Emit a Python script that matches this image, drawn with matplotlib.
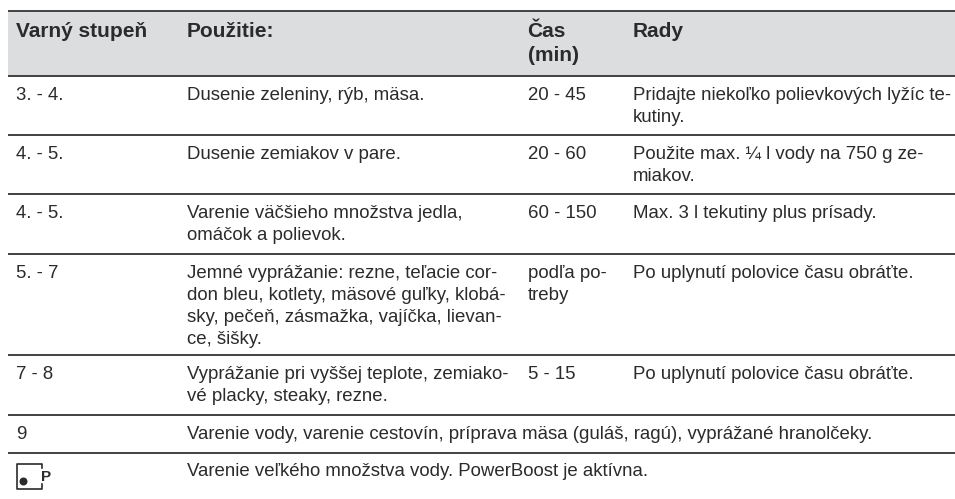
import matplotlib
matplotlib.use("Agg")
import matplotlib.pyplot as plt
from matplotlib.patches import Rectangle, Circle

plt.rcParams['font.family'] = ['Liberation Sans', 'DejaVu Sans']

headers = ["Varný stupeň", "Použitie:", "Čas\n(min)", "Rady"]
col_levels = ["3. - 4.", "4. - 5.", "4. - 5.", "5. - 7", "7 - 8", "9", ""]
col_use = [
    "Dusenie zeleniny, rýb, mäsa.",
    "Dusenie zemiakov v pare.",
    "Varenie väčšieho množstva jedla,\nomáčok a polievok.",
    "Jemné vyprážanie: rezne, teľacie cor-\ndon bleu, kotlety, mäsové guľky, klobá-\nsky, pečeň, zásmažka, vajíčka, lievan-\nce, šišky.",
    "Vyprážanie pri vyššej teplote, zemiako-\nvé placky, steaky, rezne.",
    "Varenie vody, varenie cestovín, príprava mäsa (guláš, ragú), vyprážané hranolčeky.",
    "Varenie veľkého množstva vody. PowerBoost je aktívna.",
]
col_time = ["20 - 45", "20 - 60", "60 - 150", "podľa po-\ntreby", "5 - 15", "", ""]
col_tips = [
    "Pridajte niekoľko polievkových lyžíc te-\nkutiny.",
    "Použite max. ¼ l vody na 750 g ze-\nmiakov.",
    "Max. 3 l tekutiny plus prísady.",
    "Po uplynutí polovice času obráťte.",
    "Po uplynutí polovice času obráťte.",
    "",
    "",
]

rule_y = [10.5, 75.5, 134.5, 193.5, 254, 355, 415, 453]
row_baseline = [100, 159, 218, 278, 379, 439, 476]
col_x = [16, 187, 527.5, 633]
W, H = 955, 499
INK = "#2b2b2b"
RULE = "#3a3a3c"
HEAD = "#dcddde"
FS = 13.4
HFS = 15
LEAD = 21.9

fig = plt.figure(figsize=(W / 100, H / 100), dpi=100)
ax = fig.add_axes([0, 0, 1, 1])
ax.set_xlim(0, W)
ax.set_ylim(H, 0)
ax.axis("off")

ax.add_patch(Rectangle((8, rule_y[0]), W - 8, rule_y[1] - rule_y[0],
                       facecolor=HEAD, edgecolor="none", zorder=0))
for i, y in enumerate(rule_y):
    ax.plot([8, W], [y, y], color=RULE, lw=1.35, solid_capstyle="butt", zorder=2)


def put(x, y0, s, **kw):
    for k, part in enumerate(s.split("\n")):
        ax.text(x, y0 + k * LEAD, part, fontsize=FS, color=INK,
                ha="left", va="baseline", **kw)


for x, s in zip(col_x, headers):
    for k, part in enumerate(s.split("\n")):
        ax.text(x, 36.5 + k * 24, part, fontsize=HFS, color=INK, weight="bold",
                ha="left", va="baseline")

for b, lv, u, t, r in zip(row_baseline, col_levels, col_use, col_time, col_tips):
    put(col_x[0], b, lv)
    put(col_x[1], b, u)
    put(col_x[2], b, t)
    put(col_x[3], b, r)

# PowerBoost symbol in the last row
ax.plot([41.5, 41.5, 16.5, 16.5, 41.5, 41.5],
        [468, 464, 464, 488.5, 488.5, 484], color=INK, lw=1.2,
        solid_joinstyle="round", zorder=3)
ax.add_patch(Circle((23.5, 481.5), 4, facecolor=INK, edgecolor="none", zorder=3))
ax.text(41, 481, "P", fontsize=11, weight="bold", color=INK, ha="left", va="baseline")

fig.savefig("out.png", dpi=100)
